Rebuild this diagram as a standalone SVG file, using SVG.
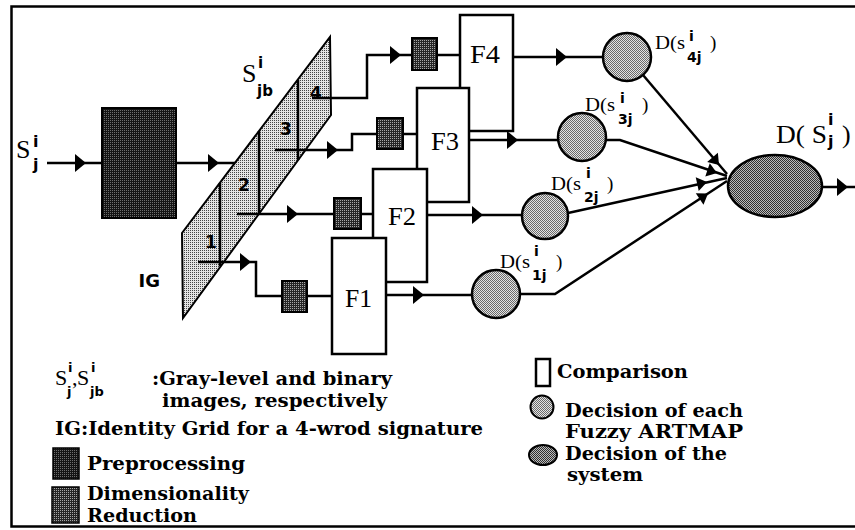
<svg xmlns="http://www.w3.org/2000/svg" xmlns:xlink="http://www.w3.org/1999/xlink" width="855" height="530" viewBox="0 0 855 530">
<style>
.ln{fill:none;stroke:#000;stroke-width:2.5}
.bx{fill:#fff;stroke:#000;stroke-width:2.5}
.sr{font-family:"Liberation Serif","Times New Roman",serif;fill:#000}
.sb{font-family:"DejaVu Sans","Liberation Sans",sans-serif;font-weight:bold;fill:#000}
.lg{font-family:"DejaVu Serif","Liberation Serif",serif;font-size:19px;font-weight:bold;fill:#000}
.fl{font-family:"Liberation Serif","Times New Roman",serif;font-size:25px;fill:#000}
</style>
<defs>
<pattern id="pPre" width="2" height="2" patternUnits="userSpaceOnUse"><rect width="2" height="2" fill="#141414"/><rect width="1" height="1" fill="#6e6e6e"/></pattern>
<pattern id="pDim" width="2" height="2" patternUnits="userSpaceOnUse"><rect width="2" height="2" fill="#262626"/><rect width="1" height="1" fill="#a8a8a8"/></pattern>
<pattern id="pIG" width="2" height="2" patternUnits="userSpaceOnUse"><rect width="2" height="2" fill="#e4e4e4"/><rect width="1" height="1" fill="#444"/></pattern>
<pattern id="pCir" width="2" height="2" patternUnits="userSpaceOnUse"><rect width="2" height="2" fill="#e4e4e4"/><rect width="1" height="1" fill="#6a6a6a"/><rect x="1" y="1" width="1" height="1" fill="#6a6a6a"/></pattern>
<pattern id="pEll" width="2" height="2" patternUnits="userSpaceOnUse"><rect width="2" height="2" fill="#bcbcbc"/><rect width="1" height="1" fill="#303030"/><rect x="1" y="1" width="1" height="1" fill="#303030"/></pattern>
<path id="ah" d="M0,0 L-11,-9 L-11,9 Z" fill="#000"/>
<path id="ahs" d="M0,0 L-10,-7 L-10,7 Z" fill="#000"/>
</defs>
<rect width="855" height="530" fill="#fff"/>
<path d="M857,6.5 H11.5 V526.5 H857" fill="none" stroke="#000" stroke-width="2.5"/>

<g id="IG">
<path d="M182,233 L330,37 L331,115 L183,318 Z" fill="url(#pIG)" stroke="#000" stroke-width="2"/>
<path d="M220,183 V266 M259,131 V213 M298,80 V160" class="ln" stroke-width="2"/>
<text class="sb" font-size="17" x="205" y="248">1</text>
<text class="sb" font-size="17" x="238" y="191">2</text>
<text class="sb" font-size="17" x="280" y="135">3</text>
<text class="sb" font-size="17" x="310" y="99">4</text>
<text class="sb" font-size="18" x="160" y="287" text-anchor="end">IG</text>
<text class="sr" font-size="26" x="242" y="82">S</text>
<text class="sb" font-size="15" x="258" y="68">i</text>
<text class="sb" font-size="15" x="257" y="96">jb</text>
</g>

<g id="connectors">
<path class="ln" d="M47,163 H102"/>
<path class="ln" d="M176,163 H235"/>
<path class="ln" d="M198,262 H256 V296 H282"/>
<path class="ln" d="M307,296 H332"/>
<path class="ln" d="M237,214 H334"/>
<path class="ln" d="M361,214 H373"/>
<path class="ln" d="M275,150 H352 V134 H377"/>
<path class="ln" d="M403,134 H417"/>
<path class="ln" d="M312,98 H367 V55 H412"/>
<path class="ln" d="M437,55 H460"/>
<path class="ln" d="M513,57 H603"/>
<path class="ln" d="M469,140 H558"/>
<path class="ln" d="M427,215 H522"/>
<path class="ln" d="M386,295 H472"/>
<path class="ln" d="M643,75 L727,174"/>
<path class="ln" d="M606,140 H620 L727,176"/>
<path class="ln" d="M568,213 L727,178"/>
<path class="ln" d="M520,294 H555 L727,181"/>
<path class="ln" d="M823,187 H855"/>
<use xlink:href="#ah" transform="translate(86,163)"/>
<use xlink:href="#ah" transform="translate(219,163)"/>
<use xlink:href="#ah" transform="translate(251,262)"/>
<use xlink:href="#ah" transform="translate(298,214)"/>
<use xlink:href="#ah" transform="translate(338,150)"/>
<use xlink:href="#ah" transform="translate(401,55)"/>
<use xlink:href="#ah" transform="translate(567,57)"/>
<use xlink:href="#ah" transform="translate(518,140)"/>
<use xlink:href="#ah" transform="translate(483,215)"/>
<use xlink:href="#ah" transform="translate(424,295)"/>
<use xlink:href="#ah" transform="translate(848,187)"/>
<use xlink:href="#ahs" transform="translate(719,165) rotate(49.7)"/>
<use xlink:href="#ahs" transform="translate(717,173) rotate(18.6)"/>
<use xlink:href="#ahs" transform="translate(707,182) rotate(-12.4)"/>
<use xlink:href="#ahs" transform="translate(708,193.5) rotate(-33.3)"/>
</g>

<g id="input">
<text class="sr" font-size="26" x="16" y="158">S</text>
<text class="sb" font-size="16" x="33" y="147">i</text>
<text class="sb" font-size="16" x="33" y="170">j</text>
</g>

<g id="preprocessing"><rect x="102" y="108" width="74" height="110" fill="url(#pPre)" stroke="#000" stroke-width="2"/></g>

<g id="dr1"><rect x="282" y="281" width="25" height="31" fill="url(#pDim)" stroke="#000" stroke-width="2"/></g>
<g id="dr2"><rect x="334" y="198" width="27" height="31" fill="url(#pDim)" stroke="#000" stroke-width="2"/></g>
<g id="dr3"><rect x="377" y="118" width="26" height="31" fill="url(#pDim)" stroke="#000" stroke-width="2"/></g>
<g id="dr4"><rect x="412" y="38" width="25" height="32" fill="url(#pDim)" stroke="#000" stroke-width="2"/></g>

<g id="F4"><rect class="bx" x="460" y="15" width="53" height="116"/><text class="fl" x="470" y="63" textLength="30" lengthAdjust="spacingAndGlyphs">F4</text></g>
<g id="F3"><rect class="bx" x="417" y="88" width="52" height="114"/><text class="fl" x="431" y="150" textLength="28" lengthAdjust="spacingAndGlyphs">F3</text></g>
<g id="F2"><rect class="bx" x="373" y="169" width="54" height="113"/><text class="fl" x="388" y="225" textLength="28" lengthAdjust="spacingAndGlyphs">F2</text></g>
<g id="F1"><rect class="bx" x="332" y="238" width="54" height="116"/><text class="fl" x="345" y="307" textLength="27" lengthAdjust="spacingAndGlyphs">F1</text></g>

<g id="D4"><circle cx="627" cy="57" r="24" fill="url(#pCir)" stroke="#000" stroke-width="2.5"/>
<text class="sr" font-size="19" x="655" y="49" textLength="30" lengthAdjust="spacingAndGlyphs">D(s</text><text class="sb" font-size="14" x="689" y="41">i</text><text class="sb" font-size="14" x="687" y="62">4j</text><text class="sr" font-size="19" x="710" y="49">)</text></g>
<g id="D3"><circle cx="582" cy="137" r="24" fill="url(#pCir)" stroke="#000" stroke-width="2.5"/>
<text class="sr" font-size="19" x="585" y="111" textLength="30" lengthAdjust="spacingAndGlyphs">D(s</text><text class="sb" font-size="14" x="620" y="103">i</text><text class="sb" font-size="14" x="618" y="124">3j</text><text class="sr" font-size="19" x="642" y="111">)</text></g>
<g id="D2"><circle cx="545" cy="216" r="23" fill="url(#pCir)" stroke="#000" stroke-width="2.5"/>
<text class="sr" font-size="19" x="551" y="190" textLength="30" lengthAdjust="spacingAndGlyphs">D(s</text><text class="sb" font-size="14" x="586" y="178">i</text><text class="sb" font-size="14" x="584" y="202">2j</text><text class="sr" font-size="19" x="607" y="190">)</text></g>
<g id="D1"><circle cx="496" cy="294" r="24" fill="url(#pCir)" stroke="#000" stroke-width="2.5"/>
<text class="sr" font-size="19" x="500" y="268" textLength="30" lengthAdjust="spacingAndGlyphs">D(s</text><text class="sb" font-size="14" x="534" y="256">i</text><text class="sb" font-size="14" x="532" y="280">1j</text><text class="sr" font-size="19" x="556" y="268">)</text></g>

<g id="system"><ellipse cx="775" cy="186" rx="47" ry="31" fill="url(#pEll)" stroke="#000" stroke-width="2.5"/>
<text class="sr" font-size="26" x="776" y="143" textLength="51" lengthAdjust="spacingAndGlyphs">D( S</text><text class="sb" font-size="16" x="828" y="125">i</text><text class="sb" font-size="16" x="828" y="147">j</text><text class="sr" font-size="26" x="842" y="143">)</text></g>

<g id="legend">
<text class="sr" font-size="22" x="55" y="385">S</text><text class="sb" font-size="13" x="68" y="372">i</text><text class="sb" font-size="13" x="67" y="396">j</text><text class="sr" font-size="22" x="72" y="385">,</text>
<text class="sr" font-size="22" x="77" y="385">S</text><text class="sb" font-size="13" x="91" y="372">i</text><text class="sb" font-size="13" x="90" y="396">jb</text>
<text class="lg" x="152" y="385" textLength="240" lengthAdjust="spacingAndGlyphs">:Gray-level and binary</text>
<text class="lg" x="162" y="407" textLength="225" lengthAdjust="spacingAndGlyphs">images, respectively</text>
<text class="lg" x="55" y="435" textLength="428" lengthAdjust="spacingAndGlyphs">IG:Identity Grid for a 4-wrod signature</text>
<rect x="53" y="448" width="26" height="31" fill="url(#pPre)" stroke="#000" stroke-width="1.5"/>
<text class="lg" x="87" y="470" textLength="158" lengthAdjust="spacingAndGlyphs">Preprocessing</text>
<rect x="52" y="487" width="27" height="36" fill="url(#pDim)" stroke="#000" stroke-width="1.5"/>
<text class="lg" x="87" y="500" textLength="162" lengthAdjust="spacingAndGlyphs">Dimensionality</text>
<text class="lg" x="87" y="522" textLength="110" lengthAdjust="spacingAndGlyphs">Reduction</text>
<rect x="536" y="359" width="14" height="27" fill="#fff" stroke="#000" stroke-width="2.5"/>
<text class="lg" x="557" y="378" textLength="131" lengthAdjust="spacingAndGlyphs">Comparison</text>
<circle cx="542" cy="407" r="11.5" fill="url(#pCir)" stroke="#000" stroke-width="2"/>
<text class="lg" x="565" y="417" textLength="178" lengthAdjust="spacingAndGlyphs">Decision of each</text>
<text class="lg" x="565" y="438" textLength="178" lengthAdjust="spacingAndGlyphs">Fuzzy ARTMAP</text>
<ellipse cx="543" cy="455" rx="14" ry="10" fill="url(#pEll)" stroke="#000" stroke-width="2"/>
<text class="lg" x="565" y="460" font-size="18" textLength="162" lengthAdjust="spacingAndGlyphs">Decision of the</text>
<text class="lg" x="567" y="481" font-size="17" textLength="76" lengthAdjust="spacingAndGlyphs">system</text>
</g>
</svg>
